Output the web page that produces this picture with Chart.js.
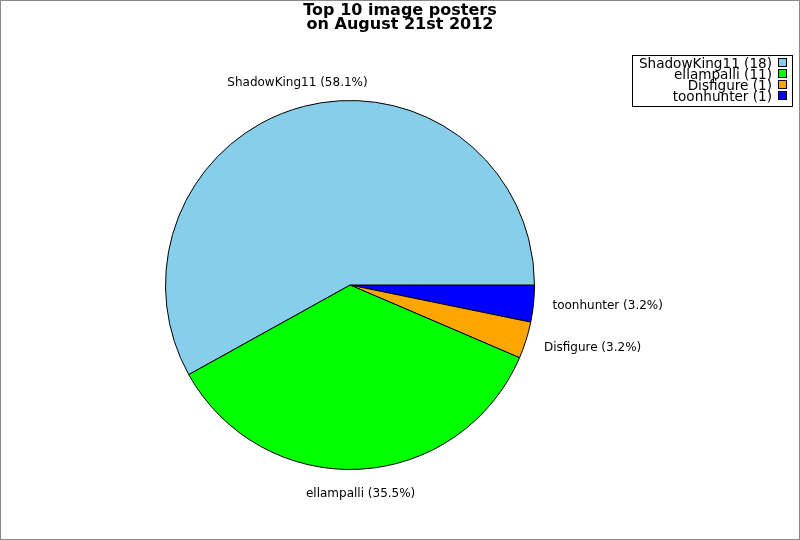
<!DOCTYPE html>
<html>
<head>
<meta charset="utf-8">
<script src="https://cdn.jsdelivr.net/npm/chart.js@4"></script>
<style>
html,body{margin:0;padding:0;background:#fff;}
#wrap{width:800px;height:540px;position:relative;}
</style>
</head>
<body>
<div id="wrap"><canvas id="c" width="800" height="540"></canvas></div>
<script>
// Data (listed in legend order)
const categories = ["ShadowKing11", "ellampalli", "Disfigure", "toonhunter"];
const counts = [18, 11, 1, 1];
const colors = ["#87CEEB", "#00FF00", "#FFA500", "#0000FF"];
const titleLines = ["Top 10 image posters", "on August 21st 2012"];

const total = counts.reduce((a, b) => a + b, 0);
// Chart.js draws clockwise; the reference runs counter-clockwise from 3 o'clock,
// so feed the slices in reverse order.
const drawLabels = categories.slice().reverse();
const drawCounts = counts.slice().reverse();
const drawColors = colors.slice().reverse();

const FONT = '"DejaVu Sans", sans-serif';

const decorPlugin = {
  id: 'decor',
  afterDraw(chart) {
    const ctx = chart.ctx;
    ctx.save();
    // outer frame
    ctx.strokeStyle = '#888888';
    ctx.lineWidth = 1;
    ctx.strokeRect(0.5, 0.5, chart.width - 1, chart.height - 1);

    // title
    ctx.fillStyle = '#000';
    ctx.font = 'bold 16px ' + FONT;
    ctx.textAlign = 'center';
    ctx.textBaseline = 'middle';
    ctx.fillText(titleLines[0], 400, 11);
    ctx.fillText(titleLines[1], 400, 25);

    // slice labels
    const meta = chart.getDatasetMeta(0);
    ctx.font = '12px ' + FONT;
    meta.data.forEach((arc, i) => {
      const mid = (arc.startAngle + arc.endAngle) / 2;
      const r = arc.outerRadius + 25;
      const x = arc.x + Math.cos(mid) * r;
      const y = arc.y + Math.sin(mid) * r;
      const c = Math.cos(mid);
      const pct = (drawCounts[i] / total * 100).toFixed(1);
      const txt = drawLabels[i] + ' (' + pct + '%)';
      let tx = x;
      if (Math.abs(c) < 0.35) { ctx.textAlign = 'center'; }
      else if (c > 0) { ctx.textAlign = 'left'; tx = x - 6; }
      else { ctx.textAlign = 'right'; tx = x + 6; }
      const ty = Math.sin(mid) < -0.9 ? y + 1 : y;
      ctx.fillText(txt, tx, ty);
    });

    // legend
    const bx = 632.5, by = 55.5, bw = 160, bh = 51;
    ctx.strokeStyle = '#000';
    ctx.strokeRect(bx, by, bw, bh);
    ctx.font = '13.6px ' + FONT;
    ctx.textAlign = 'right';
    ctx.textBaseline = 'middle';
    categories.forEach((name, i) => {
      const ly = 63 + i * 11;
      ctx.fillStyle = '#000';
      ctx.fillText(name + ' (' + counts[i] + ')', 772, ly + 1);
      ctx.fillStyle = colors[i];
      ctx.fillRect(778.5, ly - 4.5, 8, 8);
      ctx.strokeStyle = '#000';
      ctx.strokeRect(778.5, ly - 4.5, 8, 8);
    });
    ctx.restore();
  }
};

new Chart(document.getElementById('c'), {
  type: 'pie',
  data: {
    labels: drawLabels,
    datasets: [{
      data: drawCounts,
      backgroundColor: drawColors,
      borderColor: '#000000',
      borderWidth: 1
    }]
  },
  options: {
    responsive: false,
    animation: false,
    rotation: 90,
    layout: { padding: { left: 165, right: 265, top: 100, bottom: 70 } },
    plugins: {
      legend: { display: false },
      title: { display: false },
      tooltip: { enabled: false }
    }
  },
  plugins: [decorPlugin]
});
</script>
</body>
</html>
